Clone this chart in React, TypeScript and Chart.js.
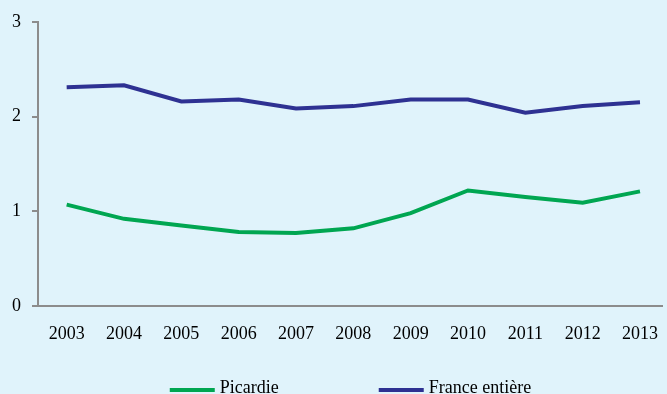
import React, { useEffect, useRef } from "react";
import { Chart, registerables } from "chart.js";

Chart.register(...registerables);

const years = [2003, 2004, 2005, 2006, 2007, 2008, 2009, 2010, 2011, 2012, 2013];
const picardie = [1.07, 0.92, 0.85, 0.78, 0.77, 0.82, 0.98, 1.22, 1.15, 1.09, 1.21];
const franceEntiere = [2.31, 2.33, 2.16, 2.18, 2.085, 2.11, 2.18, 2.18, 2.04, 2.11, 2.15];
const yTicks = [0, 1, 2, 3];
const seriesLabels = ["Picardie", "France entière"];

const W = 667;
const H = 394;
const BG = "#e0f3fb";
const AXIS = "#8c8c8c";
const GREEN = "#00a651";
const BLUE = "#2e3192";
const FONT = "'Liberation Serif', 'Times New Roman', serif";

const legendPlugin = {
  id: "bottomLegend",
  afterDraw(chart: any) {
    const ctx = chart.ctx;
    const area = chart.chartArea;
    ctx.save();
    ctx.font = `18px ${FONT}`;
    const lineW = 45;
    const textGap = 5;
    const itemGap = 100;
    const items = chart.data.datasets.map((ds: any) => ({
      label: ds.label,
      color: ds.borderColor,
      w: lineW + textGap + ctx.measureText(ds.label).width,
    }));
    const total = items.reduce((s: number, it: any) => s + it.w, 0) + itemGap * (items.length - 1);
    let x = (area.left + area.right) / 2 - total / 2;
    const lineY = 390;
    const textY = 393;
    items.forEach((it: any) => {
      ctx.fillStyle = it.color;
      ctx.fillRect(x, lineY - 2, lineW, 4);
      ctx.fillStyle = "#000";
      ctx.textBaseline = "alphabetic";
      ctx.textAlign = "left";
      ctx.fillText(it.label, x + lineW + textGap, textY);
      x += it.w + itemGap;
    });
    ctx.restore();
  },
};

export default function App() {
  const ref = useRef<HTMLCanvasElement | null>(null);

  useEffect(() => {
    document.body.style.margin = "0";
    const canvas = ref.current;
    if (!canvas) return;
    const chart = new Chart(canvas, {
      type: "line",
      data: {
        datasets: [
          {
            label: seriesLabels[0],
            data: years.map((yr, i) => ({ x: yr, y: picardie[i] })),
            borderColor: GREEN,
            backgroundColor: GREEN,
            borderWidth: 4,
            pointRadius: 0,
            tension: 0,
          },
          {
            label: seriesLabels[1],
            data: years.map((yr, i) => ({ x: yr, y: franceEntiere[i] })),
            borderColor: BLUE,
            backgroundColor: BLUE,
            borderWidth: 4,
            pointRadius: 0,
            tension: 0,
          },
        ],
      },
      options: {
        animation: false,
        responsive: false,
        devicePixelRatio: 1,
        layout: { padding: { top: 20, right: 0, left: 0, bottom: 0 } },
        plugins: {
          legend: { display: false },
          tooltip: { enabled: false },
        },
        scales: {
          x: {
            type: "linear",
            min: 2002.5,
            max: 2013.4,
            afterBuildTicks: (scale: any) => {
              scale.ticks = years.map((v) => ({ value: v }));
            },
            afterFit: (scale: any) => {
              scale.height = H - 306;
            },
            grid: { display: false },
            border: { display: true, color: AXIS, width: 2 },
            ticks: {
              autoSkip: false,
              maxRotation: 0,
              padding: 9,
              color: "#000",
              font: { family: FONT, size: 18 },
              callback: (v: any) => String(v),
            },
          },
          y: {
            min: 0,
            max: 3,
            afterBuildTicks: (scale: any) => {
              scale.ticks = yTicks.map((v) => ({ value: v }));
            },
            afterFit: (scale: any) => {
              scale.width = 38;
            },
            grid: {
              drawOnChartArea: false,
              drawTicks: true,
              tickLength: 6,
              color: AXIS,
              lineWidth: 2,
            },
            border: { display: true, color: AXIS, width: 2 },
            ticks: {
              padding: 11,
              color: "#000",
              font: { family: FONT, size: 18 },
              callback: (v: any) => String(v),
            },
          },
        },
      },
      plugins: [legendPlugin],
    } as any);
    return () => chart.destroy();
  }, []);

  return (
    <div style={{ width: W, height: H, background: BG }}>
      <canvas ref={ref} width={W} height={H} style={{ display: "block", width: W, height: H }} />
    </div>
  );
}
